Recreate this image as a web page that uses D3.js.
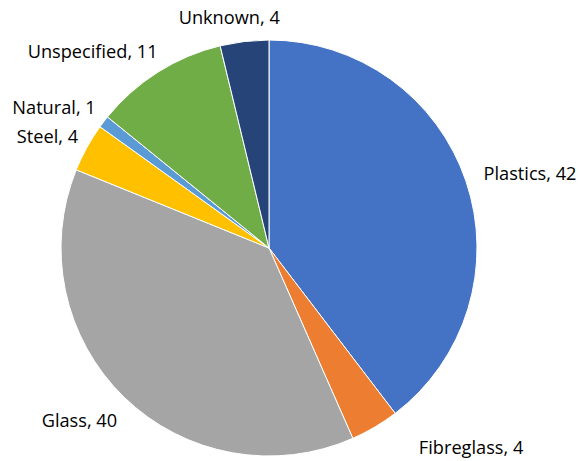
<!DOCTYPE html>
<html>
<head>
<meta charset="utf-8">
<script src="https://cdn.jsdelivr.net/npm/d3@7"></script>
<style>
  body { margin: 0; background: #fff; }
  text { font-family: "Open Sans", Lato, sans-serif; font-size: 18.2px; fill: #000; }
</style>
</head>
<body>
<svg></svg>
<script>
var width = 579;
var height = 461;

var materials = ["Plastics", "Fibreglass", "Glass", "Steel", "Natural", "Unspecified", "Unknown"];
var counts = [42, 4, 40, 4, 1, 11, 4];
var colors = ["#4472C4", "#ED7D31", "#A5A5A5", "#FFC000", "#5B9BD5", "#70AD47", "#264478"];

// hand nudges where Excel shifted a label
var labelNudge = {
    "Unknown": [-14, 0],
    "Unspecified": [5, 0],
    "Plastics": [8, 0],
    "Fibreglass": [39, 0],
    "Glass": [0, 6]
};

var data = materials.map((m, i) => ({ name: m, value: counts[i] }));

var cx = 269, cy = 248, radius = 208;

var svg = d3.select("svg")
    .attr("width", width)
    .attr("height", height);

var colorScale = d3.scaleOrdinal()
    .domain(materials)
    .range(colors);

var arcs = d3.pie()
    .value(d => d.value)
    .sort(null)(data);

var path = d3.arc()
    .outerRadius(radius)
    .innerRadius(0);

var g = svg.append("g")
    .attr("transform", `translate(${cx}, ${cy})`);

g.selectAll(".arc")
    .data(arcs)
    .enter()
    .append("path")
        .classed("arc", true)
        .attr("fill", d => colorScale(d.data.name))
        .attr("stroke", "#fff")
        .attr("stroke-width", 1)
        .attr("d", path);

var labelR = radius + 10;

g.selectAll(".label")
    .data(arcs)
    .enter()
    .append("text")
        .classed("label", true)
        .each(function(d) {
            var a = (d.startAngle + d.endAngle) / 2;
            var s = Math.sin(a), c = Math.cos(a);
            var n = labelNudge[d.data.name] || [0, 0];
            var x = labelR * s + n[0];
            var y = -labelR * c + 6.5 - 14 * c + n[1];
            var anchor = s > 0.3 ? "start" : (s < -0.3 ? "end" : "middle");
            d3.select(this)
                .attr("x", x)
                .attr("y", y)
                .attr("text-anchor", anchor)
                .text(d.data.name + ", " + d.data.value);
        });
</script>
</body>
</html>
